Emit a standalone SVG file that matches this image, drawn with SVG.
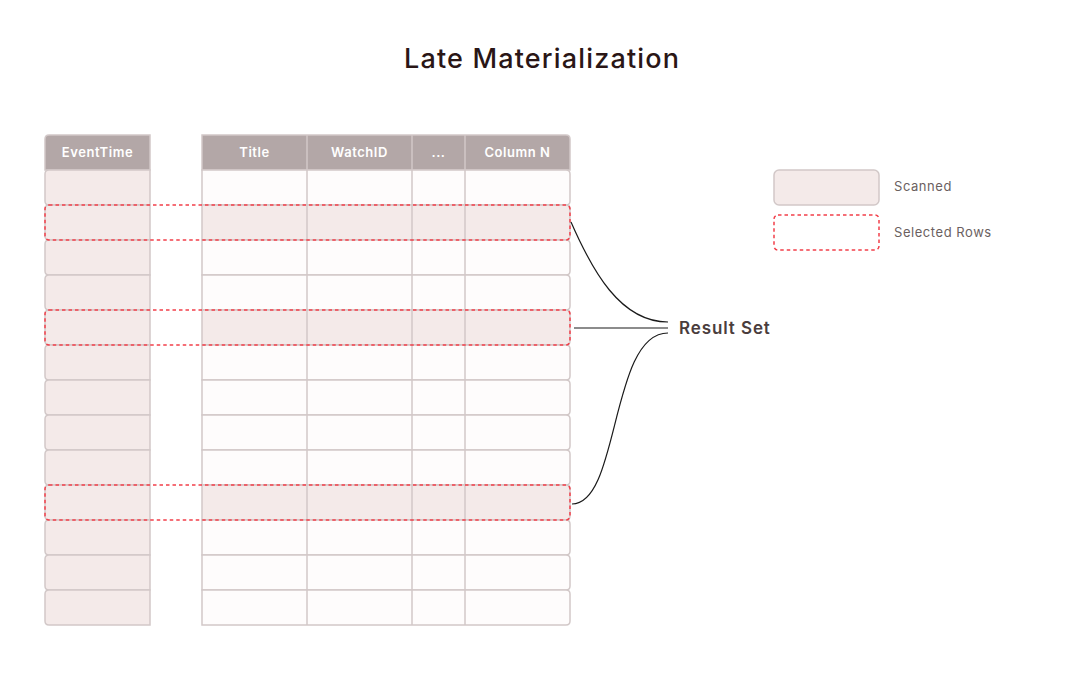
<svg xmlns="http://www.w3.org/2000/svg" width="1083" height="675" viewBox="0 0 1083 675">
<style>
.hd{fill:#b3a7a7;stroke:#d2c8c8;stroke-width:1.5}
.ht{font-family:Inter,"Liberation Sans",sans-serif;font-size:13px;font-weight:600;fill:#ffffff;text-anchor:middle;letter-spacing:0.55px}
.sc{fill:#f4eae9;stroke:#d2c8c8;stroke-width:1.5}
.un{fill:#fefcfc;stroke:#d2c8c8;stroke-width:1.5}
.dv{stroke:#d2c8c8;stroke-width:1.5}
.sel{fill:none;stroke:#f23f4a;stroke-width:1.5;stroke-dasharray:3.5 3}
.con{fill:none;stroke:#1a1a1a;stroke-width:1.2}
.lg{font-family:Inter,"Liberation Sans",sans-serif;font-size:13px;fill:#6b5f5f;letter-spacing:0.55px}
</style>
<rect width="1083" height="675" fill="#ffffff"/>
<text x="404" y="68" textLength="275" lengthAdjust="spacing" font-family="Inter,'Liberation Sans',sans-serif" font-size="27" font-weight="500" fill="#2a1616">Late Materialization</text>

<g id="eventtime-column">
<path class="hd" d="M49 135H150V170H45V139Q45 135 49 135Z"/>
<text class="ht" x="97.5" y="157">EventTime</text>
<path class="sc" d="M49 170H150V205H49Q45 205 45 201V174Q45 170 49 170Z"/>
<path class="sc" d="M49 205H150V240H49Q45 240 45 236V209Q45 205 49 205Z"/>
<path class="sc" d="M49 240H150V275H49Q45 275 45 271V244Q45 240 49 240Z"/>
<path class="sc" d="M49 275H150V310H49Q45 310 45 306V279Q45 275 49 275Z"/>
<path class="sc" d="M49 310H150V345H49Q45 345 45 341V314Q45 310 49 310Z"/>
<path class="sc" d="M49 345H150V380H49Q45 380 45 376V349Q45 345 49 345Z"/>
<path class="sc" d="M49 380H150V415H49Q45 415 45 411V384Q45 380 49 380Z"/>
<path class="sc" d="M49 415H150V450H49Q45 450 45 446V419Q45 415 49 415Z"/>
<path class="sc" d="M49 450H150V485H49Q45 485 45 481V454Q45 450 49 450Z"/>
<path class="sc" d="M49 485H150V520H49Q45 520 45 516V489Q45 485 49 485Z"/>
<path class="sc" d="M49 520H150V555H49Q45 555 45 551V524Q45 520 49 520Z"/>
<path class="sc" d="M49 555H150V590H49Q45 590 45 586V559Q45 555 49 555Z"/>
<path class="sc" d="M49 590H150V625H49Q45 625 45 621V594Q45 590 49 590Z"/>
</g>

<g id="other-columns">
<path class="hd" d="M202 135H566Q570 135 570 139V170H202Z"/>
<text class="ht" x="254.5" y="157">Title</text>
<text class="ht" x="359.5" y="157">WatchID</text>
<text class="ht" x="438.5" y="157">...</text>
<text class="ht" x="517.5" y="157">Column N</text>
<path class="un" d="M202 170H566Q570 170 570 174V201Q570 205 566 205H202Z"/>
<path class="sc" d="M202 205H566Q570 205 570 209V236Q570 240 566 240H202Z"/>
<path class="un" d="M202 240H566Q570 240 570 244V271Q570 275 566 275H202Z"/>
<path class="un" d="M202 275H566Q570 275 570 279V306Q570 310 566 310H202Z"/>
<path class="sc" d="M202 310H566Q570 310 570 314V341Q570 345 566 345H202Z"/>
<path class="un" d="M202 345H566Q570 345 570 349V376Q570 380 566 380H202Z"/>
<path class="un" d="M202 380H566Q570 380 570 384V411Q570 415 566 415H202Z"/>
<path class="un" d="M202 415H566Q570 415 570 419V446Q570 450 566 450H202Z"/>
<path class="un" d="M202 450H566Q570 450 570 454V481Q570 485 566 485H202Z"/>
<path class="sc" d="M202 485H566Q570 485 570 489V516Q570 520 566 520H202Z"/>
<path class="un" d="M202 520H566Q570 520 570 524V551Q570 555 566 555H202Z"/>
<path class="un" d="M202 555H566Q570 555 570 559V586Q570 590 566 590H202Z"/>
<path class="un" d="M202 590H566Q570 590 570 594V621Q570 625 566 625H202Z"/>
<path class="dv" d="M307 135V625M412 135V625M465 135V625"/>
</g>

<g id="selected-rows">
<rect class="sel" x="45" y="205" width="525" height="35" rx="4"/>
<rect class="sel" x="45" y="310" width="525" height="35" rx="4"/>
<rect class="sel" x="45" y="485" width="525" height="35" rx="4"/>
</g>

<g id="connectors">
<path class="con" d="M571 222C592 270 620 322 668 322"/>
<path class="con" d="M574 328H668"/>
<path class="con" d="M572 504C620 504 610 333 668 333"/>
</g>

<g id="result-set">
<text x="679" y="334" font-family="Inter,'Liberation Sans',sans-serif" font-size="17" font-weight="600" fill="#4a3d3d" letter-spacing="0.9">Result Set</text>
</g>

<g id="legend">
<rect class="sc" x="774" y="170" width="105" height="35" rx="5"/>
<text class="lg" x="894" y="191">Scanned</text>
<rect class="sel" x="774" y="215" width="105" height="35" rx="4"/>
<text class="lg" x="894" y="237">Selected Rows</text>
</g>
</svg>
